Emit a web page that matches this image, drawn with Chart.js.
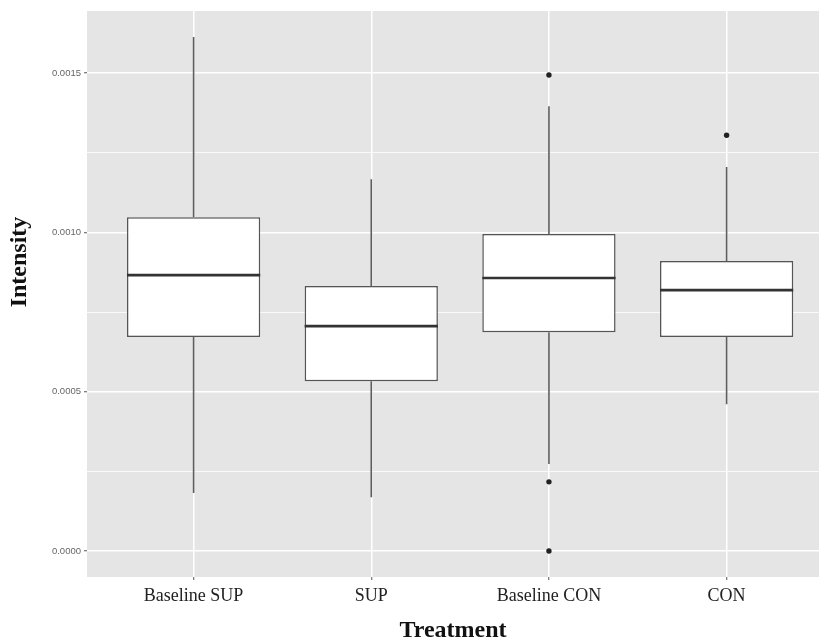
<!DOCTYPE html>
<html>
<head>
<meta charset="utf-8">
<script src="https://cdn.jsdelivr.net/npm/chart.js@4.4.1/dist/chart.umd.min.js"></script>
<style>
    html, body { margin: 0; padding: 0; background: #fff; }
    #wrap { width: 823px; height: 641px; }
</style>
</head>
<body>
<div id="wrap"><canvas id="boxChart"></canvas></div>
<script>
// Box plot statistics
const categories = ['Baseline SUP', 'SUP', 'Baseline CON', 'CON'];
const whiskerLow = [0.000182, 0.000169, 0.000273, 0.000461];
const q1 = [0.000672, 0.000533, 0.000687, 0.000672];
const medians = [0.000866, 0.000706, 0.000857, 0.000819];
const q3 = [0.001048, 0.000832, 0.000995, 0.000910];
const whiskerHigh = [0.001613, 0.001167, 0.001396, 0.001205];

// Outliers: category index + value
const outlierCategory = [2, 2, 2, 3];
const outlierValues = [0.001494, 0.000217, 0.0, 0.001305];

// Major ticks (labelled) and the minor grid lines in between
const yTickValues = [0, 0.0005, 0.001, 0.0015];
const yTickLabels = ['0.0000', '0.0005', '0.0010', '0.0015'];
const yMinorValues = [0.00025, 0.00075, 0.00125];

const isMajor = v => yTickValues.some(t => Math.abs(t - v) < 1e-9);

// ggplot-ish panel, whiskers, medians and axis titles
const ggPlugin = {
    id: 'ggPlugin',
    beforeDraw(chart) {
        const { ctx, chartArea: a } = chart;
        ctx.save();
        ctx.fillStyle = '#e5e5e5';
        ctx.fillRect(a.left, a.top, a.right - a.left, a.bottom - a.top);
        ctx.restore();
    },
    beforeDatasetsDraw(chart) {
        const { ctx } = chart;
        const x = chart.scales.x, y = chart.scales.y;
        ctx.save();
        ctx.strokeStyle = '#5e5e5e';
        ctx.lineWidth = 1.6;
        categories.forEach((c, i) => {
            const px = x.getPixelForValue(i);
            ctx.beginPath();
            ctx.moveTo(px, y.getPixelForValue(whiskerLow[i]));
            ctx.lineTo(px, y.getPixelForValue(q1[i]));
            ctx.moveTo(px, y.getPixelForValue(q3[i]));
            ctx.lineTo(px, y.getPixelForValue(whiskerHigh[i]));
            ctx.stroke();
        });
        ctx.restore();
    },
    afterDatasetsDraw(chart) {
        const { ctx } = chart;
        const y = chart.scales.y;
        const bars = chart.getDatasetMeta(0).data;
        ctx.save();
        ctx.strokeStyle = '#333';
        ctx.lineWidth = 2.6;
        bars.forEach((bar, i) => {
            const py = y.getPixelForValue(medians[i]);
            ctx.beginPath();
            ctx.moveTo(bar.x - bar.width / 2, py);
            ctx.lineTo(bar.x + bar.width / 2, py);
            ctx.stroke();
        });
        ctx.restore();
    },
    afterDraw(chart) {
        const { ctx, chartArea: a } = chart;
        ctx.save();
        ctx.fillStyle = '#111';
        ctx.font = 'bold 24px "Liberation Serif"';
        ctx.textAlign = 'center';
        ctx.textBaseline = 'middle';
        ctx.fillText('Treatment', (a.left + a.right) / 2, 631);
        ctx.translate(20, 262);
        ctx.rotate(-Math.PI / 2);
        ctx.fillText('Intensity', 0, 0);
        ctx.restore();
    }
};

const ctx = document.getElementById('boxChart');
new Chart(ctx, {
    type: 'bar',
    data: {
        datasets: [{
            type: 'bar',
            data: categories.map((c, i) => ({ x: i, y: [q1[i], q3[i]] })),
            backgroundColor: '#ffffff',
            borderColor: '#555',
            borderWidth: 1.5,
            borderSkipped: false,
            categoryPercentage: 1,
            barPercentage: 0.75
        }, {
            type: 'scatter',
            data: outlierValues.map((v, i) => ({ x: outlierCategory[i], y: v })),
            backgroundColor: '#222',
            borderWidth: 0,
            pointRadius: 2.7
        }]
    },
    options: {
        responsive: true,
        maintainAspectRatio: false,
        devicePixelRatio: 1,
        animation: false,
        layout: { padding: { top: 11, right: 0, left: 0, bottom: 0 } },
        plugins: {
            legend: { display: false },
            tooltip: { enabled: false }
        },
        scales: {
            x: {
                type: 'linear',
                bounds: 'data',
                min: -0.6,
                max: 3.52,
                offset: false,
                afterFit: s => {
                    s.height = 64;
                    s.paddingLeft = 0;
                    s.paddingRight = 0;
                },
                afterBuildTicks: s => { s.ticks = categories.map((c, i) => ({ value: i })); },
                border: { display: false },
                grid: {
                    offset: false,
                    color: '#ffffff',
                    lineWidth: 1.5,
                    tickColor: '#555',
                    tickWidth: 1,
                    tickLength: 3
                },
                ticks: {
                    autoSkip: false,
                    maxRotation: 0,
                    padding: 5,
                    color: '#222',
                    font: { family: 'Liberation Serif', size: 18 },
                    callback: v => categories[Math.round(v)] ?? ''
                }
            },
            y: {
                type: 'linear',
                bounds: 'data',
                min: -0.0000816,
                max: 0.001695,
                afterFit: s => { s.width = 87; },
                afterBuildTicks: s => {
                    s.ticks = yTickValues.concat(yMinorValues)
                        .sort((a, b) => a - b)
                        .map(v => ({ value: v }));
                },
                border: { display: false },
                grid: {
                    color: '#ffffff',
                    lineWidth: c => (c.tick && isMajor(c.tick.value)) ? 1.5 : 0.75,
                    tickColor: c => (c.tick && isMajor(c.tick.value)) ? '#555' : 'rgba(0,0,0,0)',
                    tickWidth: 1,
                    tickLength: 3
                },
                ticks: {
                    autoSkip: false,
                    padding: 3,
                    color: '#666',
                    font: { family: 'Liberation Sans', size: 9.5 },
                    callback: v => {
                        const k = yTickValues.findIndex(t => Math.abs(t - v) < 1e-9);
                        return k >= 0 ? yTickLabels[k] : '';
                    }
                }
            }
        }
    },
    plugins: [ggPlugin]
});
</script>
</body>
</html>
